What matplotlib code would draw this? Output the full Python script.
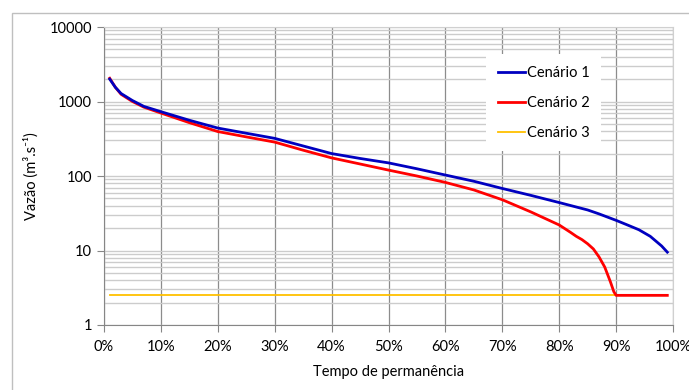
import matplotlib
matplotlib.use("Agg")
import matplotlib.pyplot as plt
from matplotlib.patches import Rectangle
from matplotlib.ticker import FixedLocator, LogLocator, NullFormatter, FuncFormatter

plt.rcParams['font.family'] = ['Lato', 'DejaVu Sans']

perm1 = [1, 2, 3, 5, 7, 10, 15, 20, 25, 30, 35, 40, 45, 50, 55, 60, 65, 70, 75, 80, 85, 87, 90, 92, 94, 96, 98, 99]
cen1 = [2000, 1550, 1280, 1030, 860, 730, 560, 440, 375, 320, 253, 200, 172, 150, 125, 103, 85, 68, 55, 44, 35, 31, 25.4, 22, 19, 15.5, 11.5, 9.5]

perm2 = [1, 2, 3, 5, 7, 10, 15, 20, 25, 30, 35, 40, 45, 50, 55, 60, 65, 70, 75, 80, 82, 83, 84, 85, 86, 87, 88, 89, 89.6, 90, 95, 99]
cen2 = [2050, 1550, 1250, 1000, 840, 700, 520, 395, 335, 285, 222, 175, 145, 120, 100, 82, 65, 48, 33, 22, 17.5, 15.5, 14, 12.3, 10.5, 8.2, 6.0, 3.8, 2.8, 2.5, 2.5, 2.5]

perm3 = [1, 99]
cen3 = [2.5, 2.5]

xticks = [0, 10, 20, 30, 40, 50, 60, 70, 80, 90, 100]
yticks = [1, 10, 100, 1000, 10000]

fig = plt.figure(figsize=(6.89, 3.9), dpi=100)
W, H = 689, 390

# outer chart frame
fig.patches.append(Rectangle((12 / W, -0.05), 1.1, 1 - 13 / H + 0.05, transform=fig.transFigure,
                             fill=False, edgecolor='#bfbfbf', linewidth=1.0))

ax = fig.add_axes([104 / W, 1 - 325 / H, (673 - 104) / W, (325 - 27) / H])
ax.set_yscale('log')
ax.set_xlim(0, 100)
ax.set_ylim(1, 10000)

ax.yaxis.set_major_locator(FixedLocator(yticks))
ax.yaxis.set_minor_locator(LogLocator(base=10, subs=range(2, 10)))
ax.yaxis.set_minor_formatter(NullFormatter())
ax.yaxis.set_major_formatter(FuncFormatter(lambda v, p: f"{int(v)}"))
ax.xaxis.set_major_locator(FixedLocator(xticks))
ax.xaxis.set_major_formatter(FuncFormatter(lambda v, p: f"{int(v)}%"))

ax.grid(True, which='major', axis='x', color='#8c8c8c', linewidth=0.9)
ax.grid(True, which='both', axis='y', color='#cccccc', linewidth=1.0)
ax.set_axisbelow(True)

for s in ['left', 'bottom']:
    ax.spines[s].set_color('#868686')
for s in ['top', 'right']:
    ax.spines[s].set_color('#d0d0d0')
ax.tick_params(axis='both', which='major', colors='#868686', labelcolor='black', labelsize=10.5, length=5)
ax.tick_params(axis='y', which='minor', length=0)
ax.tick_params(axis='x', pad=6)

ax.plot(perm1, cen1, color='#0000c0', linewidth=2.0, label='Cenário 1', zorder=4)
ax.plot(perm2, cen2, color='#ff0000', linewidth=2.0, label='Cenário 2', zorder=3)
ax.plot(perm3, cen3, color='#ffc000', linewidth=1.3, label='Cenário 3', zorder=2)

leg = ax.legend(loc='upper left', bbox_to_anchor=((486 - 104) / (673 - 104), 1 - (54 - 27) / (325 - 27)),
                frameon=True, fancybox=False, edgecolor='none', facecolor='white', framealpha=1,
                fontsize=10.5, handlelength=1.9, handletextpad=0.1, labelspacing=1.1,
                borderpad=0.8, borderaxespad=0)

ax.set_xlabel('Tempo de permanência', fontsize=10.5, labelpad=8)
ax.set_ylabel('Vazão (m³.s⁻¹)', fontsize=10.5, labelpad=8)

fig.savefig('out.png', dpi=100)
